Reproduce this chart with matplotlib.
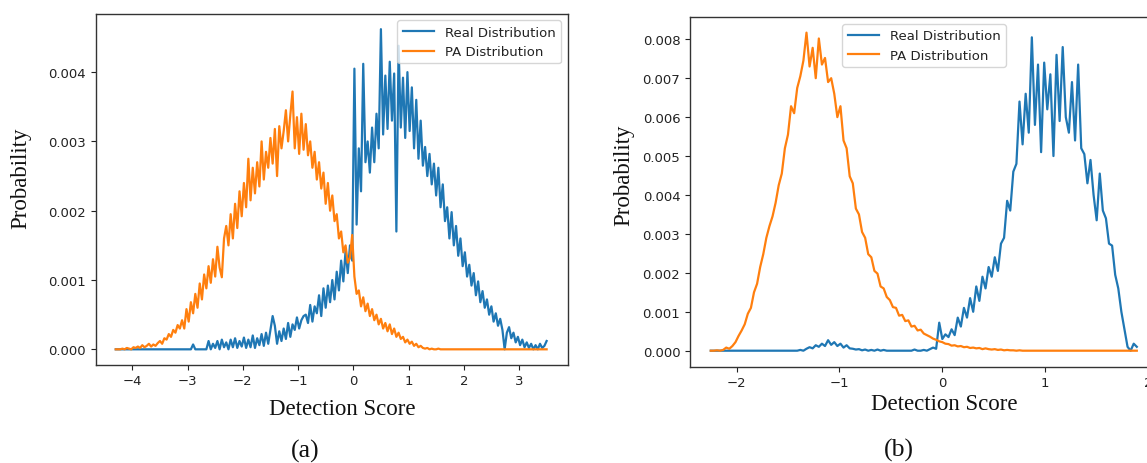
import numpy as np
import matplotlib
matplotlib.use("Agg")
import matplotlib.pyplot as plt
from matplotlib.ticker import FormatStrFormatter

# ---------------- data (probability values in units of 1e-5) ----------------
UNIT = 1e-5

# Panel (a): evenly spaced score bins from -4.30 to 3.50
score_a_start, score_a_stop = -4.30, 3.50
real_a = [
    0, 0, 0, 0, 0, 0, 0, 0, 0, 0,
    0, 0, 0, 0, 0, 0, 0, 0, 0, 0,
    0, 0, 0, 0, 0, 0, 0, 0, 0, 0,
    0, 0, 0, 0, 0, 7, 0, 0, 0, 0,
    0, 0, 12, 0, 8, 2, 12, 0, 14, 3,
    10, 0, 14, 3, 16, 2, 12, 4, 17, 2,
    14, 3, 20, 2, 16, 6, 22, 5, 24, 8,
    28, 48, 34, 8, 26, 12, 30, 15, 38, 18,
    36, 28, 46, 30, 42, 48, 50, 38, 64, 40,
    62, 52, 78, 48, 88, 60, 92, 68, 100, 72,
    112, 85, 128, 98, 142, 110, 150, 128, 405, 180,
    290, 228, 412, 270, 300, 255, 320, 270, 340, 290,
    462, 310, 395, 318, 415, 330, 398, 170, 438, 320,
    392, 305, 400, 315, 378, 290, 360, 275, 330, 265,
    292, 250, 282, 238, 268, 222, 262, 205, 238, 185,
    205, 160, 198, 150, 178, 135, 160, 120, 140, 105,
    122, 92, 110, 78, 98, 68, 84, 60, 72, 50,
    62, 40, 52, 34, 44, 28, 0, 24, 32, 16,
    24, 10, 18, 6, 14, 3, 10, 2, 8, 0,
    6, 0, 8, 2, 5, 12,
]
pa_a = [
    0, 0, 0, 1, 0, 2, 1, 0, 3, 2,
    4, 2, 6, 3, 5, 8, 4, 7, 5, 9,
    12, 8, 16, 14, 22, 18, 28, 24, 35, 30,
    42, 30, 58, 40, 68, 52, 80, 60, 95, 72,
    108, 88, 120, 96, 130, 105, 148, 118, 104, 160,
    178, 150, 195, 160, 210, 175, 228, 192, 240, 205,
    275, 215, 262, 225, 270, 235, 300, 245, 285, 262,
    305, 268, 318, 250, 322, 290, 315, 345, 300, 338,
    372, 290, 335, 282, 340, 288, 325, 280, 300, 262,
    285, 245, 270, 232, 255, 210, 240, 200, 222, 185,
    195, 160, 170, 140, 150, 125, 132, 165, 105, 80,
    85, 62, 75, 55, 66, 48, 58, 42, 50, 36,
    44, 30, 38, 26, 36, 22, 30, 18, 24, 15,
    18, 10, 14, 8, 11, 5, 8, 3, 5, 2,
    1, 2, 0, 1, 0, 0, 1, 0, 0, 0,
    0, 0, 0, 0, 0, 0, 0, 0, 0, 0,
    0, 0, 0, 0, 0, 0, 0, 0, 0, 0,
    0, 0, 0, 0, 0, 0, 0, 0, 0, 0,
    0, 0, 0, 0, 0, 0, 0, 0, 0, 0,
    0, 0, 0, 0, 0, 0,
]

# Panel (b): evenly spaced score bins from -2.25 to 1.89
score_b_start, score_b_stop = -2.25, 1.89
real_b = [
    0, 0, 0, 0, 0, 0, 0, 0, 0, 0,
    0, 0, 0, 0, 0, 0, 0, 0, 0, 0,
    0, 0, 0, 0, 0, 0, 0, 0, 0, 2,
    0, 5, 9, 6, 14, 10, 18, 12, 27, 15,
    22, 12, 18, 8, 14, 6, 5, 3, 4, 1,
    3, 0, 2, 0, 3, 0, 2, 0, 0, 0,
    0, 0, 0, 0, 0, 0, 3, 0, 0, 2,
    0, 4, 8, 5, 72, 30, 42, 35, 55, 40,
    85, 62, 110, 85, 135, 100, 165, 128, 190, 160,
    215, 190, 240, 205, 275, 290, 385, 360, 460, 480,
    640, 530, 660, 560, 805, 580, 735, 510, 740, 620,
    710, 500, 760, 590, 780, 600, 560, 690, 540, 735,
    520, 505, 430, 490, 400, 335, 455, 360, 340, 275,
    270, 195, 160, 100, 55, 10, 0, 18, 10,
]
pa_b = [
    0, 0, 1, 0, 2, 8, 5, 12, 22, 38,
    52, 68, 95, 110, 150, 172, 215, 248, 290, 320,
    345, 380, 425, 455, 520, 555, 628, 610, 675, 705,
    745, 817, 730, 778, 700, 802, 735, 752, 690, 700,
    660, 600, 628, 540, 520, 448, 430, 365, 350, 305,
    290, 248, 240, 205, 198, 165, 160, 138, 130, 112,
    110, 90, 92, 76, 78, 62, 64, 52, 54, 44,
    40, 36, 31, 28, 24, 22, 18, 17, 13, 14,
    11, 12, 9, 10, 7, 8, 6, 7, 4, 6,
    4, 3, 4, 2, 3, 1, 2, 1, 1, 0,
    1, 0, 0, 0, 0, 0, 0, 0, 0, 0,
    0, 0, 0, 0, 0, 0, 0, 0, 0, 0,
    0, 0, 0, 0, 0, 0, 0, 0, 0, 0,
    0, 0, 0, 0, 0, 0, 0, 0, 0,
]

series_labels = ["Real Distribution", "PA Distribution"]
xticks_a = [-4, -3, -2, -1, 0, 1, 2, 3]
yticks_a = [0.000, 0.001, 0.002, 0.003, 0.004]
xticks_b = [-2, -1, 0, 1, 2]
yticks_b = [0.000, 0.001, 0.002, 0.003, 0.004, 0.005, 0.006, 0.007, 0.008]
x_label = "Detection Score"
y_label = "Probability"
captions = ["(a)", "(b)"]

# ---------------- figure ----------------
W, H = 1147, 464
fig = plt.figure(figsize=(W / 100, H / 100), dpi=100)
fig.patch.set_facecolor("white")

BLUE = "#1f77b4"
ORANGE = "#ff7f0e"
SERIF = ["Liberation Serif", "DejaVu Serif"]


def px_rect(left, top, right, bottom):
    return [left / W, 1 - bottom / H, (right - left) / W, (bottom - top) / H]


def draw(ax, start, stop, real, pa, xticks, yticks, xlim, ylim, legend_loc):
    x_real = np.linspace(start, stop, len(real))
    x_pa = np.linspace(start, stop, len(pa))
    ax.plot(x_real, np.array(real) * UNIT, color=BLUE, lw=1.6,
            label=series_labels[0])
    ax.plot(x_pa, np.array(pa) * UNIT, color=ORANGE, lw=1.6,
            label=series_labels[1])
    ax.set_xlim(*xlim)
    ax.set_ylim(*ylim)
    ax.set_xticks(xticks)
    ax.set_yticks(yticks)
    ax.yaxis.set_major_formatter(FormatStrFormatter("%.3f"))
    ax.tick_params(labelsize=9.5, colors="#222222", length=3.5, width=0.8)
    for sp in ax.spines.values():
        sp.set_color("#333333")
        sp.set_linewidth(1.0)
    leg = ax.legend(loc=legend_loc, fontsize=9.5, handlelength=2.4,
                    framealpha=0.8, edgecolor="#cccccc")
    for t in leg.get_texts():
        t.set_color("#222222")


ax_a = fig.add_axes(px_rect(95.5, 14.7, 567.5, 365.5))
draw(ax_a, score_a_start, score_a_stop, real_a, pa_a, xticks_a, yticks_a,
     (-4.667, 3.878), (-0.000219, 0.004843), "upper right")

ax_b = fig.add_axes(px_rect(690.0, 18.3, 1158.0, 367.7))
draw(ax_b, score_b_start, score_b_stop, real_b, pa_b, xticks_b, yticks_b,
     (-2.452, 2.096), (-0.000411, 0.008564), "upper center")

# axis labels and captions (serif, as in the paper figure)
fig.text(21 / W, 1 - 178 / H, y_label, rotation=90, ha="center", va="center",
         fontsize=16.5, family=SERIF, color="#111111")
fig.text(342.6 / W, 1 - 410 / H, x_label, ha="center", va="center",
         fontsize=16.5, family=SERIF, color="#111111")
fig.text(623.4 / W, 1 - 175 / H, y_label, rotation=90, ha="center", va="center",
         fontsize=16.5, family=SERIF, color="#111111")
fig.text(944.7 / W, 1 - 405 / H, x_label, ha="center", va="center",
         fontsize=16.5, family=SERIF, color="#111111")
fig.text(305.3 / W, 1 - 451.7 / H, captions[0], ha="center", va="center",
         fontsize=18.5, family=SERIF, color="#111111")
fig.text(899.3 / W, 1 - 450.7 / H, captions[1], ha="center", va="center",
         fontsize=18.5, family=SERIF, color="#111111")

fig.savefig("out.png", dpi=100)
